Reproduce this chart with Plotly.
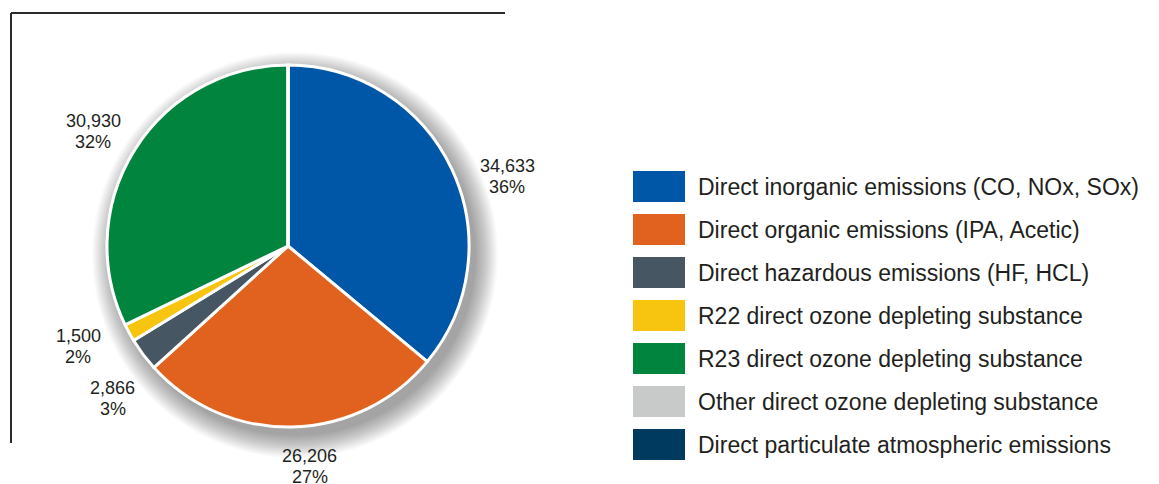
import math
import plotly.graph_objects as go

# Emission categories, values and colours
categories = [
    "Direct inorganic emissions (CO, NOx, SOx)",
    "Direct organic emissions (IPA, Acetic)",
    "Direct hazardous emissions (HF, HCL)",
    "R22 direct ozone depleting substance",
    "R23 direct ozone depleting substance",
    "Other direct ozone depleting substance",
    "Direct particulate atmospheric emissions",
]
values = [34633, 26206, 2866, 1500, 30930, 0, 0]
colors = ["#0057A7", "#E1621F", "#465663", "#F7C40F", "#00843E", "#C8C9C9", "#003A5E"]

W, H = 1159, 484
CX, CY, R = 288, 246, 181          # pie centre / radius in pixels
LABEL_DIST = 1.27                  # label distance from centre, in radii
# fine placement of each slice label (pixels) so the labels don't collide
LABEL_NUDGE = [(11, 28), (17, -9), (9, 15), (-8, -10), (0, 8), (0, 0), (0, 0)]
TEXT = "#231F20"
FONT = "Liberation Sans, Arial, sans-serif"


def px(x, y):
    """pixel position -> paper coordinates"""
    return x / W, 1 - y / H


fig = go.Figure()

x0, y1 = px(CX - R, CY - R)
x1, y0 = px(CX + R, CY + R)
fig.add_trace(go.Pie(
    labels=categories,
    values=values,
    marker=dict(colors=colors, line=dict(color="white", width=3)),
    sort=False,
    direction="clockwise",
    rotation=0,
    textinfo="none",
    hoverinfo="label+value+percent",
    showlegend=False,
    domain=dict(x=[x0, x1], y=[y0, y1]),
))

shapes = []

# soft drop shadow behind the pie
for i in range(20):
    rr = R + i * 1.15
    sx, sy = CX + 7, CY + 9
    a0, b1 = px(sx - rr, sy - rr)
    a1, b0 = px(sx + rr, sy + rr)
    shapes.append(dict(type="circle", xref="paper", yref="paper",
                       x0=a0, x1=a1, y0=b0, y1=b1, layer="below",
                       fillcolor="rgba(0,0,0,0.02)", line=dict(width=0)))

# frame lines (top and left)
fx0, fy0 = px(11, 13)
fx1, _ = px(505, 13)
_, fy1 = px(11, 443)
shapes.append(dict(type="line", xref="paper", yref="paper", x0=fx0, x1=fx1, y0=fy0, y1=fy0,
                   line=dict(color="#2B2B2B", width=2)))
shapes.append(dict(type="line", xref="paper", yref="paper", x0=fx0, x1=fx0, y0=fy0, y1=fy1,
                   line=dict(color="#2B2B2B", width=2)))

annotations = []

# value / percentage labels placed outside each slice along its mid-angle
total = sum(values)
cum = 0
for v, (nx, ny) in zip(values, LABEL_NUDGE):
    if v > 0:
        mid = (cum + v / 2) / total * 2 * math.pi
        d = LABEL_DIST * R
        lx = CX + d * math.sin(mid) + nx
        ly = CY - d * math.cos(mid) + ny
        for text, dy in ((f"{v:,}", -10.5), (f"{round(v / total * 100)}%", 10.5)):
            ax, ay = px(lx, ly + dy)
            annotations.append(dict(
                x=ax, y=ay, xref="paper", yref="paper", showarrow=False,
                text=text, font=dict(size=18, color=TEXT, family=FONT),
                xanchor="center", yanchor="middle", align="center"))
    cum += v

# legend: coloured swatches and labels
LX, LY0, STEP = 633, 186.5, 43
SW, SH = 52, 31
for i, (name, col) in enumerate(zip(categories, colors)):
    yc = LY0 + i * STEP
    a0, b1 = px(LX, yc - SH / 2)
    a1, b0 = px(LX + SW, yc + SH / 2)
    shapes.append(dict(type="rect", xref="paper", yref="paper",
                       x0=a0, x1=a1, y0=b0, y1=b1,
                       fillcolor=col, line=dict(width=0)))
    tx, ty = px(LX + SW + 11, yc)
    annotations.append(dict(
        x=tx, y=ty, xref="paper", yref="paper", showarrow=False,
        text=name, font=dict(size=23, color=TEXT, family=FONT),
        xanchor="left", yanchor="middle"))

fig.update_layout(
    width=W, height=H,
    margin=dict(l=0, r=0, t=0, b=0),
    paper_bgcolor="white",
    plot_bgcolor="white",
    shapes=shapes,
    annotations=annotations,
    font=dict(family=FONT, color=TEXT),
)

fig.write_html("out.html")
